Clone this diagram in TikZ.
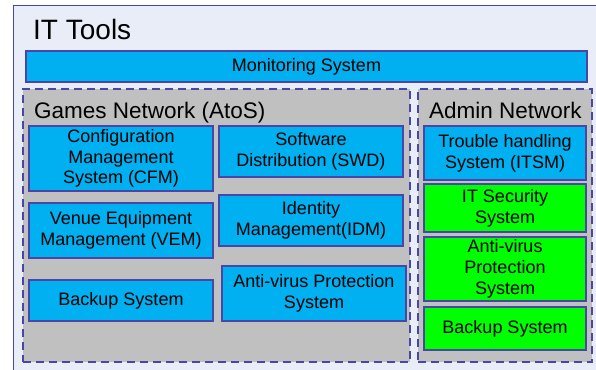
\documentclass[tikz,border=0pt]{standalone}
\usepackage{fontspec}
\setmainfont{Liberation Sans}
\definecolor{outerfill}{HTML}{E8EDF7}
\definecolor{edge}{HTML}{4A46A8}
\definecolor{cyanbox}{HTML}{00B0F0}
\definecolor{greenbox}{HTML}{00FF00}
\definecolor{netfill}{HTML}{C0C0C0}
\tikzset{
  sysbox/.style={draw=edge, line width=1.4pt, fill=cyanbox, align=center,
    font=\fontsize{18}{20.8}\selectfont, inner sep=0pt},
  greensys/.style={sysbox, fill=greenbox},
  netbox/.style={draw=edge, line width=1.6pt, dash pattern=on 8pt off 5pt, fill=netfill, inner sep=0pt},
  outerbox/.style={draw=edge, line width=1pt, fill=outerfill, inner sep=0pt},
  titletext/.style={anchor=base west, inner sep=0pt, font=\fontsize{22.5}{26}\selectfont},
}
\begin{document}
\begin{tikzpicture}[x=1pt,y=-1pt]
\useasboundingbox (0,0) rectangle (596,369);
\node[outerbox, minimum width=600pt, minimum height=380pt] (outer) at (313,196) {};
\node[titletext, font=\fontsize{28}{30}\selectfont] (ittools) at (33,40) {IT Tools};
\node[sysbox, minimum width=561pt, minimum height=31pt] (mon) at (306.5,66.5) {Monitoring System};
% networks
\node[netbox, minimum width=387pt, minimum height=273pt] (games) at (216.5,225.5) {};
\node[netbox, minimum width=174pt, minimum height=273pt] (admin) at (505,225.5) {};
\node[titletext] (gamest) at (34,118) {Games Network (AtoS)};
\node[titletext] (admint) at (429,118) {Admin Network};
% games boxes
\node[sysbox, minimum width=184pt, minimum height=65pt] (cfm) at (121,158.5) {Configuration\\Management\\System (CFM)};
\node[sysbox, minimum width=184pt, minimum height=51pt] (swd) at (311,151.5) {Software\\Distribution (SWD)};
\node[sysbox, minimum width=184pt, minimum height=55pt] (vem) at (121,230.5) {Venue Equipment\\Management (VEM)};
\node[sysbox, minimum width=184pt, minimum height=51pt] (idm) at (311,220.5) {Identity\\Management(IDM)};
\node[sysbox, minimum width=184pt, minimum height=41pt] (bak) at (121,300.5) {Backup System};
\node[sysbox, minimum width=184pt, minimum height=55pt] (av) at (314,293.5) {Anti-virus Protection\\System};
% admin boxes
\node[sysbox, minimum width=162pt, minimum height=54pt] (itsm) at (505,153) {Trouble handling\\System (ITSM)};
\node[greensys, minimum width=162pt, minimum height=48pt] (itsec) at (505,208) {IT Security\\System};
\node[greensys, minimum width=162pt, minimum height=64pt] (av2) at (505,269) {Anti-virus\\Protection\\System};
\node[greensys, minimum width=162pt, minimum height=43pt] (bak2) at (505,328.5) {Backup System};
\end{tikzpicture}
\end{document}
